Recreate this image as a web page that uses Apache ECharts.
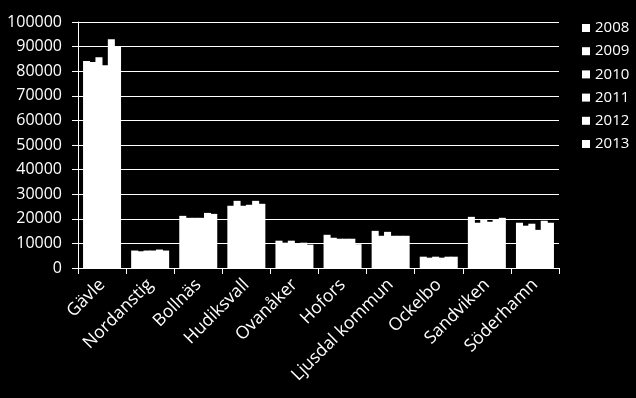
<!DOCTYPE html>
<html>
<head>
<meta charset="utf-8">
<script src="https://cdn.jsdelivr.net/npm/echarts@6/dist/echarts.min.js"></script>
<style>
html,body{margin:0;padding:0;background:#000;}
#c{width:636px;height:398px;}
</style>
</head>
<body>
<div id="c"></div>
<script>
const categories = ['Gävle','Nordanstig','Bollnäs','Hudiksvall','Ovanåker','Hofors','Ljusdal kommun','Ockelbo','Sandviken','Söderhamn'];
const years = ['2008','2009','2010','2011','2012','2013'];
const y2008 = [84100, 7100, 21200, 25300, 11100, 13500, 15100, 4600, 20800, 18400];
const y2009 = [83700, 6800, 20400, 27300, 10300, 12300, 13100, 4200, 18400, 17200];
const y2010 = [85700, 7100, 20400, 25300, 11100, 11900, 14700, 4600, 19600, 18000];
const y2011 = [82400, 7100, 20400, 25700,  9900, 11900, 13100, 4200, 18800, 15500];
const y2012 = [93000, 7500, 22400, 27300, 10300, 11900, 13100, 4600, 19600, 19200];
const y2013 = [90000, 7100, 22000, 26100,  9500,  9700, 13100, 4600, 20400, 18400];
const yTicks = {min: 0, max: 100000, interval: 10000};

const seriesValues = [y2008, y2009, y2010, y2011, y2012, y2013];
const font = '"Open Sans", "Noto Sans", sans-serif';
const chart = echarts.init(document.getElementById('c'), null, {renderer: 'canvas'});
chart.setOption({
  backgroundColor: '#000',
  animation: false,
  grid: {left: 78, right: 77, top: 22, bottom: 130, containLabel: false},
  legend: {
    orient: 'vertical', left: 577, top: 15,
    itemWidth: 8, itemHeight: 8, itemGap: 7.2,
    icon: 'rect',
    textStyle: {color: '#fff', fontSize: 15, fontFamily: font, lineHeight: 16},
    data: years
  },
  xAxis: {
    type: 'category', data: categories,
    axisLine: {lineStyle: {color: '#fff', width: 1}},
    axisTick: {show: true, length: 6, lineStyle: {color: '#fff'}},
    axisLabel: {color: '#fff', fontSize: 17.5, fontFamily: font, rotate: 45, margin: 14, interval: 0}
  },
  yAxis: {
    type: 'value', min: yTicks.min, max: yTicks.max, interval: yTicks.interval,
    axisLine: {show: true, lineStyle: {color: '#fff', width: 1}},
    axisTick: {show: true, length: 6, lineStyle: {color: '#fff'}},
    axisLabel: {color: '#fff', fontSize: 16, fontFamily: font, margin: 16, formatter: v => String(v)},
    splitLine: {show: true, lineStyle: {color: '#fff', width: 1}}
  },
  series: years.map((y, i) => ({
    name: y, type: 'bar', data: seriesValues[i],
    barGap: '-12%', barCategoryGap: '21%',
    itemStyle: {color: '#fff'}
  }))
});
</script>
</body>
</html>
